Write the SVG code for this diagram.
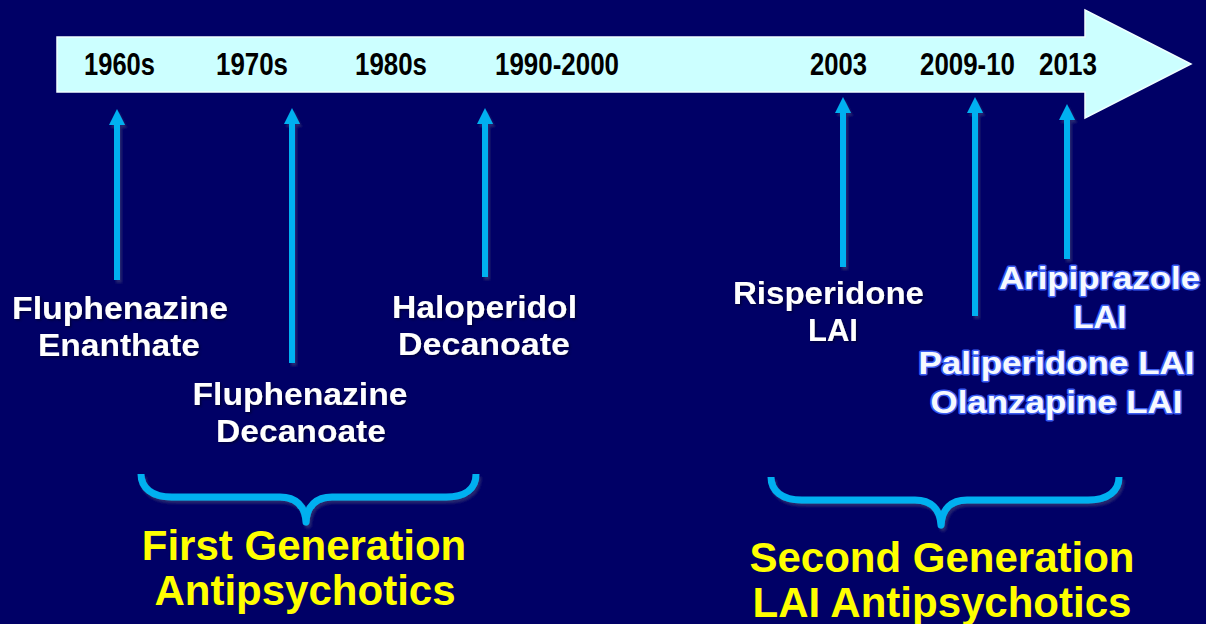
<svg xmlns="http://www.w3.org/2000/svg" width="1206" height="624" viewBox="0 0 1206 624">
  <defs>
    <style>
      .year { font-family: "Liberation Sans Narrow", "Liberation Sans", Arial, sans-serif; font-weight: bold; font-size: 31px; fill: #000000; text-anchor: middle; }
      .drug { font-family: "Liberation Sans", Arial, sans-serif; font-weight: bold; font-size: 31px; fill: #ffffff; text-anchor: middle; }
      .drug-glow { font-family: "Liberation Sans", Arial, sans-serif; font-weight: bold; font-size: 31px; fill: #f6f9ff; stroke: #3a5cf0; stroke-width: 3; paint-order: stroke; stroke-linejoin: round; text-anchor: middle; }
      .gen { font-family: "Liberation Sans", Arial, sans-serif; font-weight: bold; font-size: 42px; fill: #ffff00; text-anchor: middle; }
      .tick { stroke: #00b0f0; stroke-width: 6; fill: none; marker-end: url(#head); }
      .brace { stroke: #00b0f0; stroke-width: 7; fill: none; stroke-linejoin: round; stroke-linecap: butt; }
    </style>
    <marker id="head" markerUnits="userSpaceOnUse" markerWidth="16" markerHeight="16" viewBox="0 0 16 16" refX="1" refY="8" orient="auto">
      <path d="M0,0 L16,8 L0,16 Z" fill="#00b0f0"/>
    </marker>
    <filter id="shadow" x="-20%" y="-20%" width="140%" height="140%">
      <feDropShadow dx="2" dy="3" stdDeviation="1" flood-color="#2a2a70" flood-opacity="0.9"/>
    </filter>
    <filter id="txtshadow" x="-5%" y="-20%" width="110%" height="140%">
      <feDropShadow dx="1.5" dy="1.5" stdDeviation="0.8" flood-color="#000030" flood-opacity="0.8"/>
    </filter>
  </defs>

  <!-- background -->
  <rect x="0" y="0" width="1206" height="624" fill="#000066"/>

  <!-- timeline arrow -->
  <g id="timeline">
    <path d="M57,37 L1085,37 L1085,10 L1191,64 L1085,118 L1085,92 L57,92 Z" fill="#ccffff" stroke="#f0ffff" stroke-width="1.5"/>
    <text class="year" x="119.5" y="75" textLength="71" lengthAdjust="spacingAndGlyphs">1960s</text>
    <text class="year" x="252" y="75" textLength="72" lengthAdjust="spacingAndGlyphs">1970s</text>
    <text class="year" x="391" y="75" textLength="72" lengthAdjust="spacingAndGlyphs">1980s</text>
    <text class="year" x="557" y="75" textLength="124" lengthAdjust="spacingAndGlyphs">1990-2000</text>
    <text class="year" x="838.5" y="75" textLength="57" lengthAdjust="spacingAndGlyphs">2003</text>
    <text class="year" x="967.5" y="75" textLength="95" lengthAdjust="spacingAndGlyphs">2009-10</text>
    <text class="year" x="1068" y="75" textLength="58" lengthAdjust="spacingAndGlyphs">2013</text>
  </g>

  <!-- connectors: upward pointers from each drug to its date -->
  <g id="connectors" filter="url(#shadow)">
    <path class="tick" d="M117,280 L117,124"/>
    <path class="tick" d="M292,363 L292,123"/>
    <path class="tick" d="M485,277 L485,123"/>
    <path class="tick" d="M843,267 L843,112"/>
    <path class="tick" d="M975,316 L975,112"/>
    <path class="tick" d="M1067,259 L1067,119"/>
  </g>

  <!-- first generation drugs -->
  <g id="fluphenazine-enanthate" filter="url(#txtshadow)">
    <text class="drug" x="120" y="319" textLength="216" lengthAdjust="spacingAndGlyphs">Fluphenazine</text>
    <text class="drug" x="119" y="356" textLength="162" lengthAdjust="spacingAndGlyphs">Enanthate</text>
  </g>
  <g id="fluphenazine-decanoate" filter="url(#txtshadow)">
    <text class="drug" x="300" y="405" textLength="215" lengthAdjust="spacingAndGlyphs">Fluphenazine</text>
    <text class="drug" x="301" y="442" textLength="170" lengthAdjust="spacingAndGlyphs">Decanoate</text>
  </g>
  <g id="haloperidol-decanoate" filter="url(#txtshadow)">
    <text class="drug" x="484.5" y="318" textLength="185" lengthAdjust="spacingAndGlyphs">Haloperidol</text>
    <text class="drug" x="484" y="355" textLength="172" lengthAdjust="spacingAndGlyphs">Decanoate</text>
  </g>

  <!-- second generation drugs -->
  <g id="risperidone-lai" filter="url(#txtshadow)">
    <text class="drug" x="828.5" y="304" textLength="191" lengthAdjust="spacingAndGlyphs">Risperidone</text>
    <text class="drug" x="833" y="341" textLength="50" lengthAdjust="spacingAndGlyphs">LAI</text>
  </g>
  <g id="aripiprazole-lai">
    <text class="drug-glow" x="1099.5" y="289" textLength="201" lengthAdjust="spacingAndGlyphs">Aripiprazole</text>
    <text class="drug-glow" x="1100" y="328" textLength="53" lengthAdjust="spacingAndGlyphs">LAI</text>
  </g>
  <g id="paliperidone-olanzapine-lai">
    <text class="drug-glow" x="1056.5" y="374" textLength="276" lengthAdjust="spacingAndGlyphs">Paliperidone LAI</text>
    <text class="drug-glow" x="1056.5" y="413" textLength="252" lengthAdjust="spacingAndGlyphs">Olanzapine LAI</text>
  </g>

  <!-- generation groupings -->
  <g id="first-generation">
    <path class="brace" filter="url(#shadow)" d="M141,474 C141,488 152,497 172,497 L280,497 C296,497 305,506 306,522 C307,506 316,497 332,497 L446,497 C466,497 476,488 476,474"/>
    <text class="gen" x="304" y="560">First Generation</text>
    <text class="gen" x="305" y="605">Antipsychotics</text>
  </g>
  <g id="second-generation">
    <path class="brace" filter="url(#shadow)" d="M771,477 C771,491 782,500 802,500 L915,500 C931,500 940,509 941,525 C942,509 951,500 967,500 L1088,500 C1108,500 1119,491 1119,477"/>
    <text class="gen" x="942" y="572">Second Generation</text>
    <text class="gen" x="942" y="617">LAI Antipsychotics</text>
  </g>
</svg>
